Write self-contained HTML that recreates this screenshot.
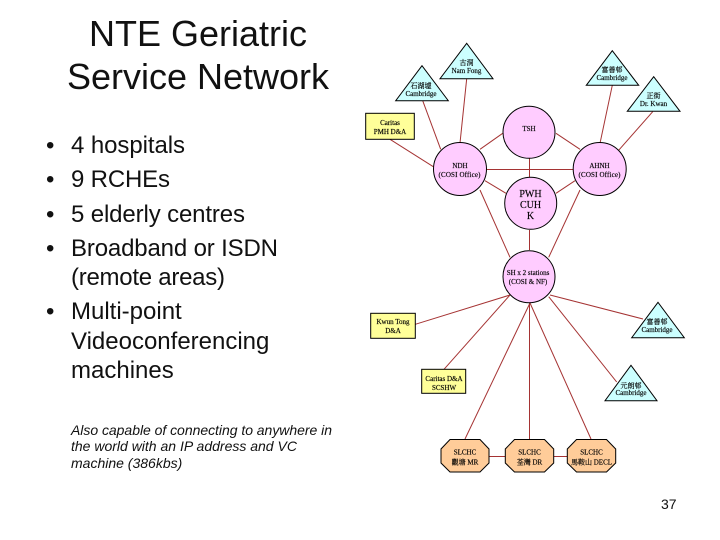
<!DOCTYPE html>
<html><head><meta charset="utf-8"><style>
html,body{margin:0;padding:0;background:#fff}
svg{display:block}
.t{font-family:"Liberation Sans",sans-serif;fill:#111}
.s{font-family:"Liberation Serif","Noto Serif CJK SC",serif;font-size:7px;fill:#000;stroke:#000;stroke-width:.15;text-anchor:middle}
.l line{stroke:#a53333;stroke-width:1}
.n{stroke:#000;stroke-width:1}
</style></head><body>
<svg width="720" height="540" viewBox="0 0 720 540" xmlns="http://www.w3.org/2000/svg">
<rect width="720" height="540" fill="#fff"/>
<g class="t" font-size="36" text-anchor="middle">
<text x="198" y="46">NTE Geriatric</text>
<text x="198" y="89">Service Network</text>
</g>
<g class="t" font-size="24">
<text x="46" y="153">•</text><text x="71" y="153" textLength="114">4 hospitals</text>
<text x="46" y="187">•</text><text x="71" y="187" textLength="99">9 RCHEs</text>
<text x="46" y="222">•</text><text x="71" y="222" textLength="174">5 elderly centres</text>
<text x="46" y="256">•</text><text x="71" y="256" textLength="207">Broadband or ISDN</text>
<text x="71" y="285" textLength="154">(remote areas)</text>
<text x="46" y="319">•</text><text x="71" y="319">Multi-point</text>
<text x="71" y="349">Videoconferencing</text>
<text x="71" y="378">machines</text>
</g>
<g class="t" font-size="14" font-style="italic">
<text x="71" y="435" textLength="261">Also capable of connecting to anywhere in</text>
<text x="71" y="451">the world with an IP address and VC</text>
<text x="71" y="468">machine (386kbs)</text>
</g>
<text class="t" font-size="14" x="661" y="509">37</text>
<g class="l">
<line x1="466.7" y1="78.7" x2="460" y2="143"/>
<line x1="422.7" y1="100.7" x2="440.7" y2="149.3"/>
<line x1="612.3" y1="85.3" x2="600" y2="143.3"/>
<line x1="652.7" y1="111.7" x2="618.3" y2="150.7"/>
<line x1="390" y1="139.3" x2="433.3" y2="166.7"/>
<line x1="480" y1="149.3" x2="502.7" y2="133.3"/>
<line x1="556" y1="133.3" x2="580" y2="149.3"/>
<line x1="529.5" y1="158" x2="529.5" y2="177"/>
<line x1="486.7" y1="169.5" x2="573" y2="169.5"/>
<line x1="485" y1="180.7" x2="506" y2="193.3"/>
<line x1="575" y1="180.7" x2="556" y2="193.3"/>
<line x1="480" y1="190" x2="510" y2="257.3"/>
<line x1="580" y1="190" x2="548.7" y2="257.3"/>
<line x1="529.5" y1="230" x2="529.5" y2="250"/>
<line x1="510" y1="295" x2="415.3" y2="324.3"/>
<line x1="510" y1="295" x2="444" y2="369.3"/>
<line x1="530" y1="303" x2="465" y2="439"/>
<line x1="529.5" y1="303" x2="529.5" y2="439"/>
<line x1="530" y1="303" x2="591" y2="439"/>
<line x1="548.7" y1="296.7" x2="616.7" y2="382"/>
<line x1="550" y1="295" x2="643" y2="319"/>
<line x1="489" y1="456.5" x2="505.3" y2="456.5"/>
<line x1="553.7" y1="456.5" x2="567.3" y2="456.5"/>
</g>
<g class="n" fill="#ffccff">
<circle cx="529" cy="132.3" r="26"/>
<circle cx="460" cy="169" r="26.5"/>
<circle cx="599.7" cy="169" r="26.5"/>
<circle cx="530.7" cy="203.3" r="26"/>
<circle cx="529" cy="276.7" r="26"/>
</g>
<g class="n" fill="#ccffff">
<polygon points="466.7,43.3 440,78.7 493,78.7"/>
<polygon points="422,65.7 395.7,100.7 448.3,100.7"/>
<polygon points="612.3,50.7 586.3,85.3 638.7,85.3"/>
<polygon points="653.7,76.7 627.3,111.3 680,111.3"/>
<polygon points="658,302.3 631.7,337.7 684.3,337.7"/>
<polygon points="631,365.3 605,400.7 657,400.7"/>
</g>
<g class="n" fill="#ffff99">
<rect x="365.7" y="113.3" width="48.6" height="26"/>
<rect x="370.7" y="313.3" width="44.6" height="25"/>
<rect x="421.7" y="369.3" width="44" height="24"/>
</g>
<g class="n" fill="#ffcc99">
<polygon points="450,439.5 480,439.5 489,449 489,463 480,472 450,472 441,463 441,449"/>
<polygon points="514.5,439.5 544.5,439.5 553.7,449 553.7,463 544.5,472 514.5,472 505.3,463 505.3,449"/>
<polygon points="576.5,439.5 606.5,439.5 615.7,449 615.7,463 606.5,472 576.5,472 567.3,463 567.3,449"/>
</g>
<g class="s">
<text x="466.5" y="65">古洞</text><text x="466.5" y="73">Nam Fong</text>
<text x="421" y="88">石湖墟</text><text x="421" y="96">Cambridge</text>
<text x="612" y="72">富善邨</text><text x="612" y="80">Cambridge</text>
<text x="653.5" y="98">正街</text><text x="653.5" y="106">Dr. Kwan</text>
<text x="390" y="125">Caritas</text><text x="390" y="134">PMH D&amp;A</text>
<text x="529" y="131">TSH</text>
<text x="460" y="168">NDH</text><text x="459.5" y="177" textLength="42">(COSI Office)</text>
<text x="599.5" y="168">AHNH</text><text x="599.5" y="177" textLength="42">(COSI Office)</text>
<text x="530.5" y="197" font-size="10">PWH</text><text x="530.5" y="208" font-size="10">CUH</text><text x="530.5" y="219" font-size="10">K</text>
<text x="528" y="275">SH x 2 stations</text><text x="528" y="284">(COSI &amp; NF)</text>
<text x="393" y="324">Kwun Tong</text><text x="393" y="333">D&amp;A</text>
<text x="444" y="381">Caritas D&amp;A</text><text x="444" y="390">SCSHW</text>
<text x="657" y="324">富善邨</text><text x="657" y="332">Cambridge</text>
<text x="631" y="388">元朗邨</text><text x="631" y="395">Cambridge</text>
<text x="465" y="454.5">SLCHC</text><text x="465" y="464.5">觀塘 MR</text>
<text x="529.5" y="454.5">SLCHC</text><text x="529.5" y="464.5">荃灣 DR</text>
<text x="591.5" y="454.5">SLCHC</text><text x="591.5" y="464.5">馬鞍山 DECL</text>
</g>
</svg>
</body></html>
